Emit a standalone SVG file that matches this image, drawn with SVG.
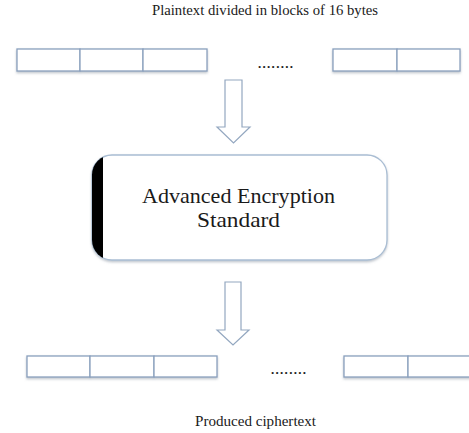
<svg xmlns="http://www.w3.org/2000/svg" width="469" height="433" viewBox="0 0 469 433">
  <style>
    .cell { fill: #ffffff; stroke: #8aa0bd; stroke-width: 1.3; }
    .arrow { fill: #ffffff; stroke: #93a7c0; stroke-width: 1.2; stroke-linejoin: miter; }
    .label { font-family: "Liberation Serif", "DejaVu Serif", serif; fill: #1a1a1a; }
    .dots { font-family: "Liberation Serif", "DejaVu Serif", serif; fill: #1a1a1a; font-size: 13px; font-weight: bold; }
  </style>
  <defs>
    <filter id="shadow" x="-10%" y="-20%" width="120%" height="150%">
      <feDropShadow dx="0" dy="1.5" stdDeviation="1" flood-color="#7f8a99" flood-opacity="0.5"/>
    </filter>
    <clipPath id="boxClip">
      <rect x="92" y="155" width="295" height="105" rx="20" ry="20"/>
    </clipPath>
  </defs>

  <!-- heading -->
  <text class="label" x="265" y="15" font-size="14.5" text-anchor="middle" textLength="226" lengthAdjust="spacingAndGlyphs">Plaintext divided in blocks of 16 bytes</text>

  <!-- plaintext blocks -->
  <g id="plain-blocks" filter="url(#shadow)">
    <rect class="cell" x="17" y="49" width="63" height="22"/>
    <rect class="cell" x="80" y="49" width="63" height="22"/>
    <rect class="cell" x="143" y="49" width="64" height="22"/>
    <rect class="cell" x="333" y="49" width="64" height="22"/>
    <rect class="cell" x="397" y="49" width="63" height="22"/>
  </g>
  <text class="dots" x="258" y="68" textLength="35" lengthAdjust="spacing">........</text>

  <!-- connectors -->
  <g id="connectors">
    <path class="arrow" d="M225,80 H242 V127 H250 L233.5,143 L217,127 H225 Z"/>
    <path class="arrow" d="M225,282 H241 V330 H249 L233,345 L217,330 H225 Z"/>
  </g>

  <!-- AES block -->
  <g id="aes" filter="url(#shadow)">
    <rect x="92" y="155" width="295" height="105" rx="20" ry="20" fill="#ffffff" stroke="#a9bdd3" stroke-width="1.3"/>
    <rect x="90" y="153" width="13" height="110" fill="#000000" clip-path="url(#boxClip)"/>
  </g>
  <text class="label" x="238.5" y="203" font-size="22" text-anchor="middle" textLength="193" lengthAdjust="spacingAndGlyphs">Advanced Encryption</text>
  <text class="label" x="238.5" y="227" font-size="22" text-anchor="middle" textLength="83" lengthAdjust="spacingAndGlyphs">Standard</text>

  <!-- ciphertext blocks -->
  <g id="cipher-blocks" filter="url(#shadow)">
    <rect class="cell" x="27" y="356" width="63" height="21"/>
    <rect class="cell" x="90" y="356" width="64" height="21"/>
    <rect class="cell" x="154" y="356" width="63" height="21"/>
    <rect class="cell" x="344" y="356" width="64" height="21"/>
    <rect class="cell" x="408" y="356" width="64" height="21"/>
  </g>
  <text class="dots" x="271" y="374" textLength="35" lengthAdjust="spacing">........</text>

  <!-- caption -->
  <text class="label" x="255.5" y="426" font-size="14.5" text-anchor="middle" textLength="121" lengthAdjust="spacingAndGlyphs">Produced ciphertext</text>
</svg>
